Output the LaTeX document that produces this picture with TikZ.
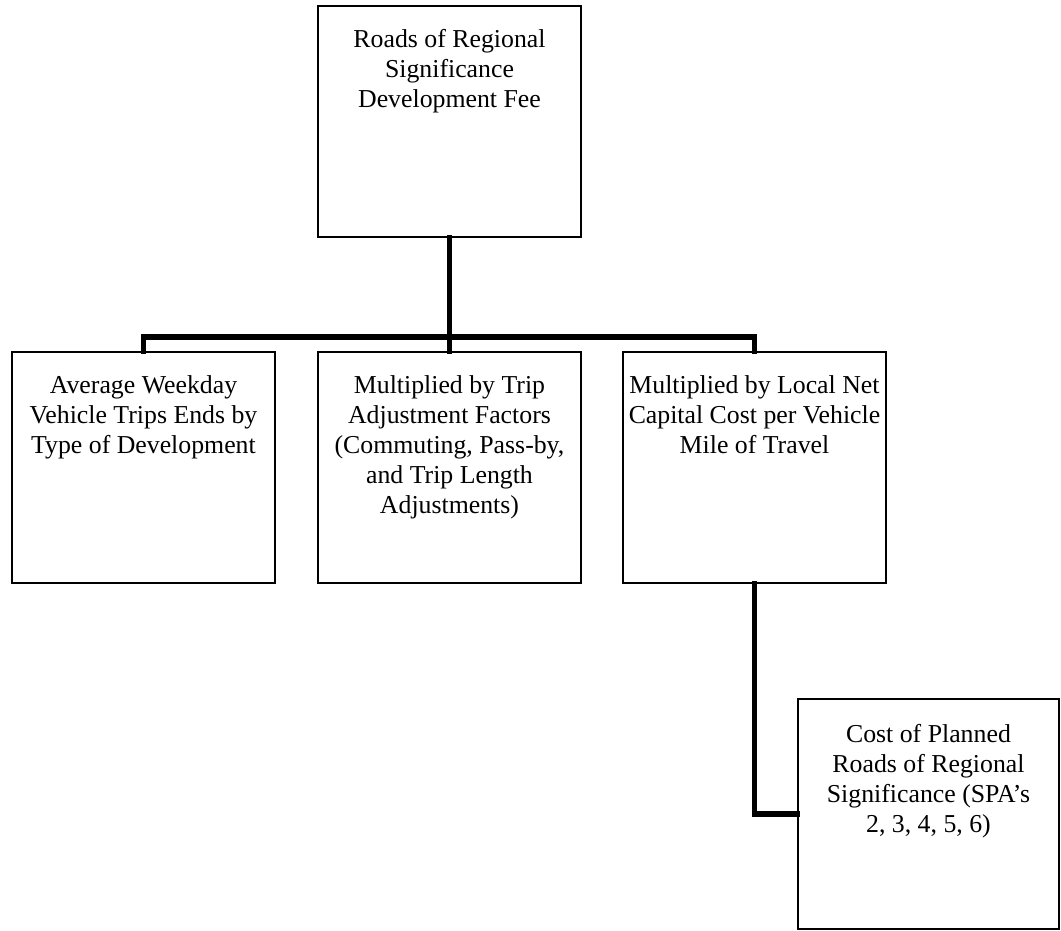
\documentclass[tikz,border=0pt]{standalone}
\usepackage{fontspec}
\setmainfont{Liberation Serif}
\begin{document}
\begin{tikzpicture}[x=1pt,y=-1pt,
  box/.style={draw=black, line width=1.6pt, minimum width=263pt, minimum height=231pt, inner sep=0pt},
  boxtext/.style={anchor=north, align=center, inner sep=0pt, font=\fontsize{25.8}{30}\selectfont},
  conn/.style={line width=5.8pt, line join=miter, line cap=rect}]
\useasboundingbox (0,0) rectangle (1061,930);
\node[box] (top) at (449.5,121.5) {};
\node[box] (b1) at (143.5,467.5) {};
\node[box] (b2) at (449.5,467.5) {};
\node[box] (b3) at (754.5,467.5) {};
\node[box, minimum width=261pt, minimum height=230pt] (b4) at (928.5,814) {};
\coordinate (bus) at (449.5,337);
\draw[conn] (top.south) -- (b2.north);
\draw[conn] (b1.north) |- (bus) -| (b3.north);
\draw[conn] (b3.south) |- (b4.west);
\node[boxtext] (ttop) at ([yshift=-24pt]top.north) {Roads of Regional\\Significance\\Development Fee};
\node[boxtext] (t1) at ([yshift=-24pt]b1.north) {Average Weekday\\Vehicle Trips Ends by\\Type of Development};
\node[boxtext] (t2) at ([yshift=-24pt]b2.north) {Multiplied by Trip\\Adjustment Factors\\(Commuting, Pass-by,\\and Trip Length\\Adjustments)};
\node[boxtext] (t3) at ([yshift=-24pt]b3.north) {Multiplied by Local Net\\Capital Cost per Vehicle\\Mile of Travel};
\node[boxtext] (t4) at ([yshift=-26pt]b4.north) {Cost of Planned\\Roads of Regional\\Significance (SPA’s\\2, 3, 4, 5, 6)};
\end{tikzpicture}
\end{document}
